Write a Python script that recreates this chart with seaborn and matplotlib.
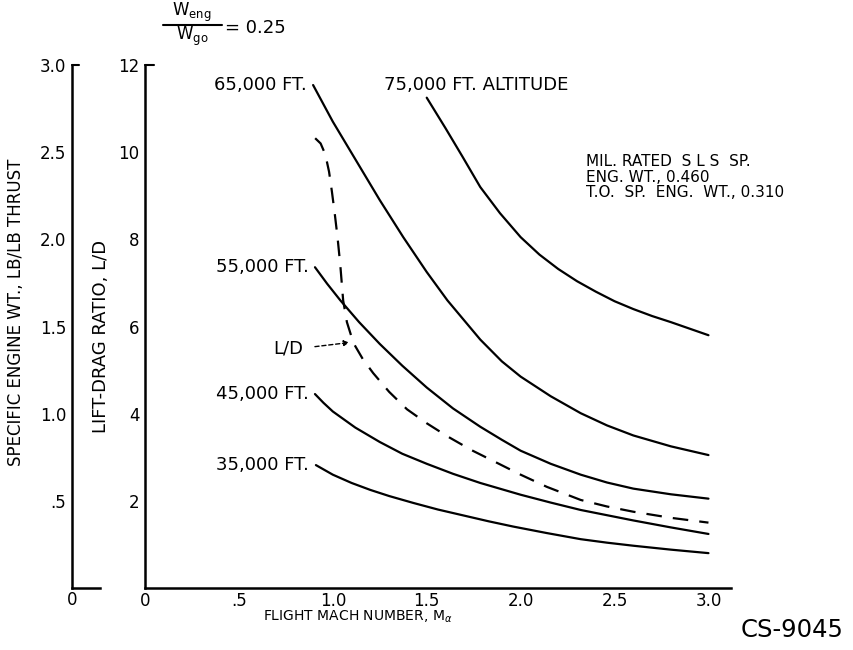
import matplotlib
matplotlib.use("Agg")
import matplotlib.pyplot as plt
import seaborn as sns
import pandas as pd

# curves (flight Mach number vs L/D scale)
mach_35k = [0.91, 1.0, 1.1, 1.2, 1.3, 1.43, 1.56, 1.7, 1.83, 1.96, 2.14, 2.32, 2.46, 2.6, 2.8, 3.0]
ld_35k = [2.82, 2.6, 2.41, 2.25, 2.11, 1.95, 1.8, 1.66, 1.53, 1.41, 1.26, 1.12, 1.04, 0.97, 0.88, 0.80]

mach_45k = [0.905, 0.95, 1.0, 1.12, 1.25, 1.37, 1.5, 1.64, 1.785, 2.0, 2.16, 2.32, 2.46, 2.6, 2.8, 3.0]
ld_45k = [4.45, 4.25, 4.05, 3.68, 3.35, 3.08, 2.85, 2.62, 2.41, 2.14, 1.96, 1.79, 1.67, 1.55, 1.39, 1.24]

mach_55k = [0.905, 0.97, 1.04, 1.14, 1.25, 1.37, 1.5, 1.64, 1.785, 1.9, 2.0, 2.16, 2.32, 2.46, 2.6, 2.8, 3.0]
ld_55k = [7.36, 6.98, 6.6, 6.1, 5.6, 5.1, 4.6, 4.12, 3.7, 3.4, 3.15, 2.85, 2.6, 2.42, 2.28, 2.15, 2.05]

mach_65k = [0.895, 1.0, 1.125, 1.25, 1.375, 1.5, 1.61, 1.785, 1.9, 2.0, 2.16, 2.32, 2.46, 2.6, 2.8, 3.0]
ld_65k = [11.54, 10.7, 9.8, 8.9, 8.05, 7.25, 6.6, 5.7, 5.2, 4.85, 4.4, 4.01, 3.73, 3.5, 3.25, 3.05]

mach_75k = [1.5, 1.6, 1.69, 1.785, 1.89, 2.0, 2.1, 2.2, 2.3, 2.4, 2.5, 2.6, 2.7, 2.8, 2.9, 3.0]
ld_75k = [11.25, 10.55, 9.9, 9.2, 8.6, 8.05, 7.65, 7.32, 7.04, 6.8, 6.58, 6.4, 6.24, 6.1, 5.95, 5.8]

mach_ld = [0.906, 0.935, 0.96, 0.98, 0.995, 1.01, 1.025, 1.04, 1.055, 1.075, 1.11, 1.16, 1.215,
           1.3, 1.395, 1.5, 1.61, 1.74, 1.875, 2.0, 2.14, 2.32, 2.46, 2.6, 2.8, 3.0]
ld_ld = [10.32, 10.2, 9.95, 9.55, 9.1, 8.6, 8.05, 7.4, 6.6, 6.1, 5.62, 5.25, 4.93,
         4.5, 4.1, 3.78, 3.48, 3.16, 2.87, 2.6, 2.32, 2.02, 1.87, 1.75, 1.61, 1.5]

alt_labels = ['35,000 FT.', '45,000 FT.', '55,000 FT.', '65,000 FT.']
x_ticks = [0, 0.5, 1.0, 1.5, 2.0, 2.5, 3.0]
x_ticklabels = ['0', '.5', '1.0', '1.5', '2.0', '2.5', '3.0']
ld_ticks = [2, 4, 6, 8, 10, 12]
sew_ticks = [0.5, 1.0, 1.5, 2.0, 2.5, 3.0]
sew_ticklabels = ['.5', '1.0', '1.5', '2.0', '2.5', '3.0']
note_lines = ['MIL. RATED  S L S  SP.', 'ENG. WT., 0.460', 'T.O.  SP.  ENG.  WT., 0.310']

sns.set_style('white')
plt.rcParams['font.family'] = ['DejaVu Sans']
for k in ['text.color', 'axes.labelcolor', 'xtick.color', 'ytick.color', 'axes.edgecolor']:
    plt.rcParams[k] = 'black'

W, H = 854, 650
fig = plt.figure(figsize=(W / 100, H / 100), dpi=100)

# pixel geometry of the plot frame
x0, x_end = 145, 731
y0, y_top = 588, 65
ax = fig.add_axes([x0 / W, (H - y0) / H, (x_end - x0) / W, (y0 - y_top) / H])

curves = [(mach_35k, ld_35k), (mach_45k, ld_45k), (mach_55k, ld_55k),
          (mach_65k, ld_65k), (mach_75k, ld_75k)]
for mx, ly in curves:
    df = pd.DataFrame({'mach': mx, 'ld': ly})
    sns.lineplot(data=df, x='mach', y='ld', ax=ax, color='black', lw=1.6,
                 estimator=None, sort=False)

df_ld = pd.DataFrame({'mach': mach_ld, 'ld': ld_ld})
sns.lineplot(data=df_ld, x='mach', y='ld', ax=ax, color='black', lw=1.6,
             estimator=None, sort=False, linestyle=(0, (7, 5)))

ax.set_xlim(0, 3.12)
ax.set_ylim(0, 12)
ax.set_xticks(x_ticks)
ax.set_xticklabels(x_ticklabels)
ax.set_yticks(ld_ticks)
ax.set_yticklabels([str(t) for t in ld_ticks])
ax.tick_params(axis='both', direction='in', length=5, width=1.2, labelsize=12, pad=4)
ax.tick_params(axis='x', pad=3)
for s in ['top', 'right']:
    ax.spines[s].set_visible(False)
for s in ['left', 'bottom']:
    ax.spines[s].set_linewidth(1.8)
ax.set_xlabel('')
ax.set_ylabel('')
ax.plot([0, 0.05], [12, 12], color='black', lw=1.5, clip_on=False)

# altitude labels
for lab, (mx, ly) in zip(alt_labels, curves[:4]):
    ax.text(mx[0] - 0.035, ly[0], lab, ha='right', va='center', fontsize=13)
ax.text(1.27, 11.55, '75,000 FT. ALTITUDE', ha='left', va='center', fontsize=13)

# L/D pointer
ax.text(0.762, 5.49, 'L/D', ha='center', va='center', fontsize=13)
ax.annotate('', xy=(1.103, 5.64), xytext=(0.89, 5.53),
            arrowprops=dict(arrowstyle='-|>', color='black', lw=1.0,
                            linestyle=(0, (3, 2)), mutation_scale=8))

for i, line in enumerate(note_lines):
    fig.text(586 / W, 1 - (161 + 16 * i) / H, line, ha='left', va='center', fontsize=11)

# outer scale: specific engine weight
ax2 = fig.add_axes([72 / W, (H - y0) / H, 28 / W, (y0 - y_top) / H])
ax2.set_ylim(0, 3)
ax2.set_xlim(0, 1)
ax2.set_xticks([])
ax2.set_yticks(sew_ticks)
ax2.set_yticklabels(sew_ticklabels)
ax2.tick_params(axis='y', direction='in', length=5, width=1.2, labelsize=12, pad=4)
ax2.patch.set_alpha(0)
for s in ['top', 'right']:
    ax2.spines[s].set_visible(False)
for s in ['left', 'bottom']:
    ax2.spines[s].set_linewidth(1.8)
ax2.plot([0, 0.25], [3, 3], color='black', lw=1.5, clip_on=False)

fig.text(72 / W, 1 - 600 / H, '0', ha='center', va='center', fontsize=12)

fig.text(16 / W, 1 - 312 / H, 'SPECIFIC ENGINE WT., LB/LB THRUST', rotation=90,
         ha='center', va='center', fontsize=12)
fig.text(101 / W, 1 - 336 / H, 'LIFT-DRAG RATIO, L/D', rotation=90,
         ha='center', va='center', fontsize=13)
fig.text(358 / W, 1 - 617 / H, r'FLIGHT MACH NUMBER, M$_\alpha$', ha='center',
         va='center', fontsize=10)
fig.text(792 / W, 1 - 630 / H, 'CS-9045', ha='center', va='center', fontsize=17.5)

# W_eng / W_go = 0.25 heading
fig.text(192 / W, 1 - 12 / H, r'W$_{\mathregular{eng}}$', ha='center', va='center', fontsize=12)
fig.text(192 / W, 1 - 36 / H, r'W$_{\mathregular{go}}$', ha='center', va='center', fontsize=12)
fig.add_artist(plt.Line2D([163 / W, 222 / W], [1 - 25 / H, 1 - 25 / H], color='black', lw=1.5))
fig.text(225 / W, 1 - 28 / H, '= 0.25', ha='left', va='center', fontsize=13)

fig.savefig('out.png', dpi=100)
